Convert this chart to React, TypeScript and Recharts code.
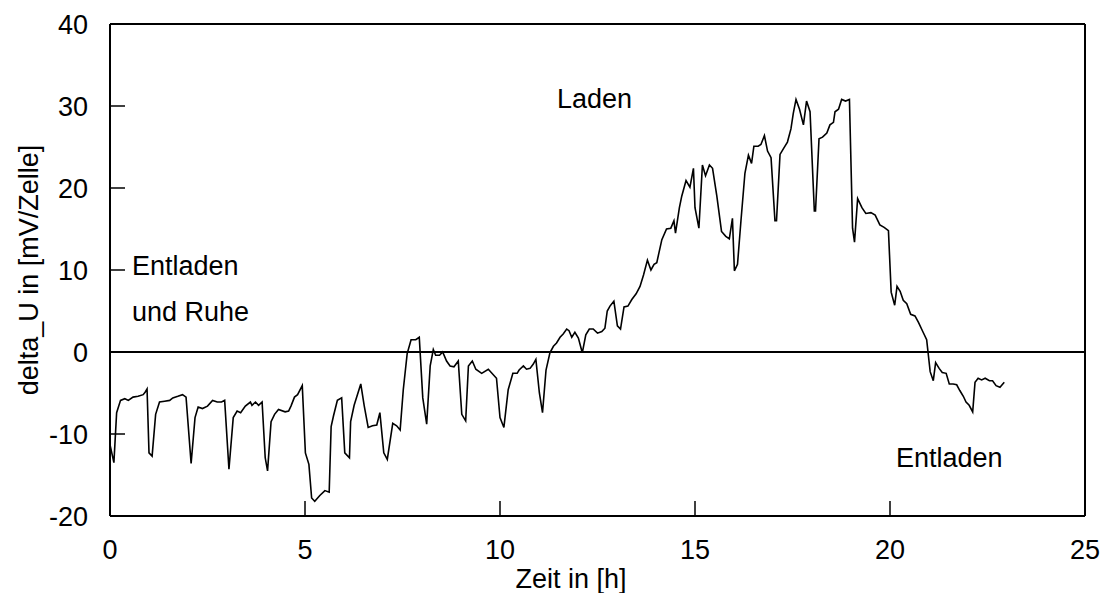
import { LineChart, Line, XAxis, YAxis, ReferenceLine } from 'recharts'

const zeit = [
  0.0, 0.1, 0.17, 0.27, 0.38, 0.47, 0.59, 0.72, 0.85, 0.9, 0.95, 1.0, 1.08, 1.17, 1.27, 1.4, 1.53, 1.61, 1.74, 1.86,
  1.95, 2.08, 2.18, 2.26, 2.37, 2.5, 2.63, 2.75, 2.86, 2.94, 3.05, 3.16, 3.26, 3.35, 3.47, 3.6, 3.64, 3.73, 3.81, 3.9,
  3.98, 4.04, 4.13, 4.22, 4.32, 4.49, 4.58, 4.64, 4.73, 4.81, 4.93, 5.01, 5.1, 5.17, 5.25, 5.38, 5.51, 5.62, 5.67, 5.73,
  5.83, 5.94, 6.02, 6.14, 6.17, 6.26, 6.43, 6.52, 6.62, 6.73, 6.84, 6.92, 7.02, 7.11, 7.25, 7.35, 7.44, 7.52, 7.62, 7.72,
  7.84, 7.93, 8.02, 8.12, 8.21, 8.29, 8.35, 8.45, 8.53, 8.63, 8.72, 8.82, 8.93, 9.02, 9.12, 9.19, 9.29, 9.38, 9.53, 9.7,
  9.91, 10.0, 10.1, 10.21, 10.33, 10.44, 10.49, 10.6, 10.68, 10.77, 10.85, 10.92, 11.01, 11.09, 11.18, 11.28, 11.37, 11.45, 11.54, 11.62,
  11.71, 11.77, 11.84, 11.92, 12.01, 12.11, 12.2, 12.29, 12.39, 12.5, 12.61, 12.69, 12.75, 12.82, 12.92, 13.01, 13.09, 13.18, 13.28, 13.38,
  13.49, 13.59, 13.68, 13.78, 13.87, 13.95, 14.02, 14.15, 14.27, 14.38, 14.46, 14.5, 14.6, 14.66, 14.77, 14.87, 14.96, 15.0, 15.1, 15.19,
  15.27, 15.37, 15.45, 15.56, 15.68, 15.79, 15.88, 15.96, 16.01, 16.09, 16.18, 16.28, 16.37, 16.45, 16.51, 16.62, 16.69, 16.78, 16.86, 16.95,
  17.05, 17.09, 17.18, 17.28, 17.37, 17.46, 17.52, 17.59, 17.68, 17.78, 17.86, 17.95, 18.06, 18.09, 18.18, 18.27, 18.38, 18.46, 18.55, 18.59,
  18.68, 18.76, 18.86, 18.96, 19.04, 19.09, 19.17, 19.28, 19.38, 19.51, 19.62, 19.74, 19.85, 19.96, 20.03, 20.12, 20.18, 20.26, 20.34, 20.43,
  20.53, 20.64, 20.73, 20.84, 20.94, 21.03, 21.11, 21.17, 21.26, 21.34, 21.44, 21.52, 21.62, 21.71, 21.79, 21.88, 21.95, 22.03, 22.12, 22.18,
  22.26, 22.35, 22.44, 22.55, 22.63, 22.72, 22.82, 22.93,
]

const deltaU = [
  -11.3, -13.5, -7.4, -5.9, -5.7, -5.9, -5.5, -5.4, -5.2, -4.9, -4.5, -12.3, -12.7, -7.6, -6.1, -6.0, -5.9, -5.6, -5.4, -5.2,
  -5.5, -13.6, -8.0, -6.7, -6.9, -6.6, -5.9, -6.1, -6.1, -5.9, -14.3, -8.0, -7.2, -7.4, -6.6, -6.1, -6.5, -6.1, -6.5, -6.1,
  -12.9, -14.5, -8.5, -7.6, -7.0, -7.3, -7.2, -6.6, -5.5, -5.2, -4.1, -12.3, -13.7, -17.8, -18.2, -17.5, -16.9, -17.1, -9.1, -7.8,
  -5.9, -5.6, -12.3, -12.9, -8.5, -6.5, -3.9, -6.6, -9.2, -9.0, -8.9, -7.4, -12.3, -13.1, -8.7, -9.0, -9.5, -4.6, -0.2, 1.5,
  1.5, 1.8, -5.6, -8.8, -1.7, 0.3, -0.4, -0.4, 0.0, -1.1, -1.7, -1.8, -1.1, -7.6, -8.4, -1.7, -1.1, -2.1, -2.6, -2.1,
  -3.2, -8.0, -9.2, -4.6, -2.6, -2.6, -2.2, -1.7, -2.1, -2.0, -1.5, -0.9, -5.0, -7.4, -2.2, -0.1, 0.7, 1.1, 1.8, 2.2,
  2.8, 2.6, 1.8, 2.4, 1.7, -0.1, 2.1, 2.8, 2.8, 2.3, 2.5, 2.9, 5.0, 5.6, 6.2, 3.2, 2.8, 5.5, 5.6, 6.4,
  7.1, 8.0, 9.4, 11.2, 10.0, 10.7, 10.9, 13.7, 15.0, 15.1, 16.0, 14.5, 17.6, 19.0, 20.9, 20.1, 22.4, 17.6, 15.1, 22.8,
  21.5, 22.8, 22.4, 19.0, 14.7, 14.1, 13.8, 16.3, 9.9, 10.7, 16.1, 21.8, 24.0, 23.0, 25.1, 25.1, 25.3, 26.4, 24.5, 23.7,
  16.0, 16.0, 24.1, 24.9, 25.6, 27.2, 29.1, 30.8, 29.6, 27.7, 30.6, 29.3, 17.2, 17.2, 26.0, 26.2, 26.7, 27.7, 28.0, 29.3,
  29.6, 30.8, 30.6, 30.8, 15.1, 13.4, 18.7, 17.6, 16.9, 17.0, 16.7, 15.5, 15.2, 14.8, 7.3, 5.7, 8.0, 7.4, 6.3, 5.9,
  4.6, 4.4, 3.6, 2.5, 1.5, -2.4, -3.5, -1.3, -2.0, -2.5, -2.6, -3.9, -3.9, -4.0, -4.7, -5.4, -6.1, -6.5, -7.3, -3.7,
  -3.2, -3.4, -3.2, -3.5, -3.5, -4.1, -4.3, -3.7,
]

const xTicks = [0, 5, 10, 15, 20, 25]
const yTicks = [-20, -10, 0, 10, 20, 30, 40]

const font = '"Liberation Sans", Arial, sans-serif'

export default function App() {
  const data = zeit.map((t, i) => ({ t, v: deltaU[i] }))
  const tickStyle = { fontSize: 27, fill: '#000', fontFamily: font }

  return (
    <div style={{ position: 'absolute', left: 0, top: 0, width: 1106, height: 593, background: '#fff' }}>
      <LineChart
        width={1106}
        height={593}
        data={data}
        margin={{ top: 24, right: 21, bottom: 37, left: 30 }}
      >
        <XAxis
          dataKey="t"
          type="number"
          domain={[0, 25]}
          ticks={xTicks}
          tick={tickStyle}
          tickSize={-15}
          tickMargin={39}
          height={40}
          stroke="#000"
          strokeWidth={2}
          tickLine={{ stroke: '#000', strokeWidth: 1.5 }}
        />
        <YAxis
          type="number"
          domain={[-20, 40]}
          ticks={yTicks}
          tick={tickStyle}
          tickSize={-15}
          tickMargin={37}
          width={80}
          stroke="#000"
          strokeWidth={2}
          tickLine={{ stroke: '#000', strokeWidth: 1.5 }}
        />
        <ReferenceLine y={40} stroke="#000" strokeWidth={2} />
        <ReferenceLine x={25} stroke="#000" strokeWidth={2} />
        <ReferenceLine y={0} stroke="#000" strokeWidth={2} />
        <Line
          dataKey="v"
          stroke="#000"
          strokeWidth={1.6}
          dot={false}
          type="linear"
          isAnimationActive={false}
        />
      </LineChart>
      <svg
        width={1106}
        height={593}
        style={{ position: 'absolute', left: 0, top: 0, pointerEvents: 'none' }}
        fontFamily={font}
        fontSize={27}
      >
        <text x={557} y={108}>Laden</text>
        <text x={132} y={275}>Entladen</text>
        <text x={132} y={321}>und Ruhe</text>
        <text x={896} y={467}>Entladen</text>
        <text x={571} y={588} textAnchor="middle">Zeit in [h]</text>
        <text x={0} y={0} textAnchor="middle" transform="translate(38 270) rotate(-90)">
          delta_U in [mV/Zelle]
        </text>
      </svg>
    </div>
  )
}
